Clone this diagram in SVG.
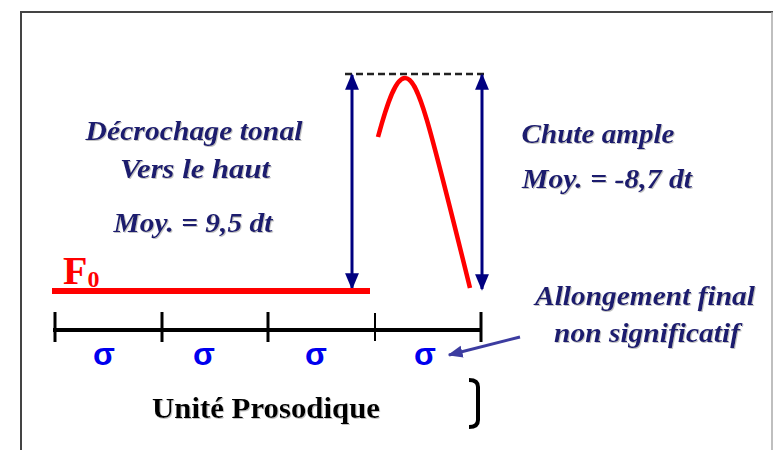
<svg xmlns="http://www.w3.org/2000/svg" width="773" height="450" viewBox="0 0 773 450">
<defs>
<style>
.lbl{font-family:"Liberation Serif","Times New Roman",serif;font-weight:bold;font-style:italic;fill:#1a1a6e;font-size:28px;text-anchor:middle;filter:url(#sh)}
.sig{font-family:"Liberation Sans",Arial,sans-serif;font-weight:bold;fill:#0000ee;font-size:32px;text-anchor:middle}
.dim{stroke:#000080;stroke-width:3;fill:none}
</style>
<filter id="sh" x="-10%" y="-30%" width="120%" height="160%">
<feDropShadow dx="1" dy="1" stdDeviation="0.6" flood-color="#aaa" flood-opacity="0.7"/>
</filter>
<marker id="ah" viewBox="0 0 10 10" refX="9" refY="5" markerWidth="5.5" markerHeight="5.5" orient="auto-start-reverse" markerUnits="strokeWidth">
<path d="M0,0.8 L10,5 L0,9.2 z" fill="#000080"/>
</marker>
<marker id="ah2" viewBox="0 0 10 10" refX="9" refY="5" markerWidth="5" markerHeight="5" orient="auto" markerUnits="strokeWidth">
<path d="M0,1 L10,5 L0,9 z" fill="#3c3ca0"/>
</marker>
</defs>
<rect width="773" height="450" fill="#fff"/>
<g id="frame" fill="none">
<path d="M21,450 V12 H773" stroke="#444" stroke-width="2"/>
<line x1="772" y1="12" x2="772" y2="450" stroke="#aaa" stroke-width="1.5"/>
</g>
<g id="connectors">
<line x1="345" y1="74" x2="488" y2="74" stroke="#222" stroke-width="2.5" stroke-dasharray="7,4"/>
<line class="dim" x1="352" y1="75" x2="352" y2="288" marker-start="url(#ah)" marker-end="url(#ah)"/>
<line class="dim" x1="482" y1="75" x2="482" y2="289" marker-start="url(#ah)" marker-end="url(#ah)"/>
<line x1="520" y1="337" x2="449" y2="355" stroke="#3c3ca0" stroke-width="3" marker-end="url(#ah2)"/>
</g>
<g id="f0curve">
<path d="M378,137 C388,100 396,78 405,78 C418,78 428,118 470,288" fill="none" stroke="#ff0000" stroke-width="4.5"/>
</g>
<g id="f0line">
<rect x="52" y="288" width="318" height="6" fill="#ff0000"/>
<text x="63" y="284" font-family="Liberation Serif,serif" font-weight="bold" font-size="40" fill="#ff0000">F<tspan font-size="24" dy="3">0</tspan></text>
</g>
<g id="timeline" stroke="#000">
<line x1="53" y1="330" x2="482" y2="330" stroke-width="4"/>
<line x1="55" y1="312" x2="55" y2="342" stroke-width="3"/>
<line x1="162" y1="312" x2="162" y2="342" stroke-width="3"/>
<line x1="268" y1="312" x2="268" y2="342" stroke-width="3"/>
<line x1="375" y1="313" x2="375" y2="341" stroke-width="2"/>
<line x1="481" y1="312" x2="481" y2="342" stroke-width="3"/>
</g>
<g id="syllables">
<text class="sig" x="104" y="365">σ</text>
<text class="sig" x="204" y="365">σ</text>
<text class="sig" x="316" y="365">σ</text>
<text class="sig" x="425" y="365">σ</text>
</g>
<g id="unite">
<text x="266" y="418" font-family="Liberation Serif,serif" font-weight="bold" font-size="30" fill="#000" text-anchor="middle" textLength="228" lengthAdjust="spacingAndGlyphs" filter="url(#sh)">Unité Prosodique</text>
<path d="M469,380 Q478,380 478,387 V420 Q478,427 469,427" fill="none" stroke="#000" stroke-width="4"/>
</g>
<g id="decrochage">
<text class="lbl" x="194" y="140" textLength="217" lengthAdjust="spacingAndGlyphs">Décrochage tonal</text>
<text class="lbl" x="195" y="178" textLength="150" lengthAdjust="spacingAndGlyphs">Vers le haut</text>
<text class="lbl" x="193" y="232" textLength="159" lengthAdjust="spacingAndGlyphs">Moy. = 9,5 dt</text>
</g>
<g id="chute">
<text class="lbl" x="598" y="143" textLength="153" lengthAdjust="spacingAndGlyphs">Chute ample</text>
<text class="lbl" x="607" y="188" textLength="170" lengthAdjust="spacingAndGlyphs">Moy. = -8,7 dt</text>
</g>
<g id="allongement">
<text class="lbl" x="645" y="305" textLength="220" lengthAdjust="spacingAndGlyphs">Allongement final</text>
<text class="lbl" x="647" y="342" textLength="186" lengthAdjust="spacingAndGlyphs">non significatif</text>
</g>
</svg>
